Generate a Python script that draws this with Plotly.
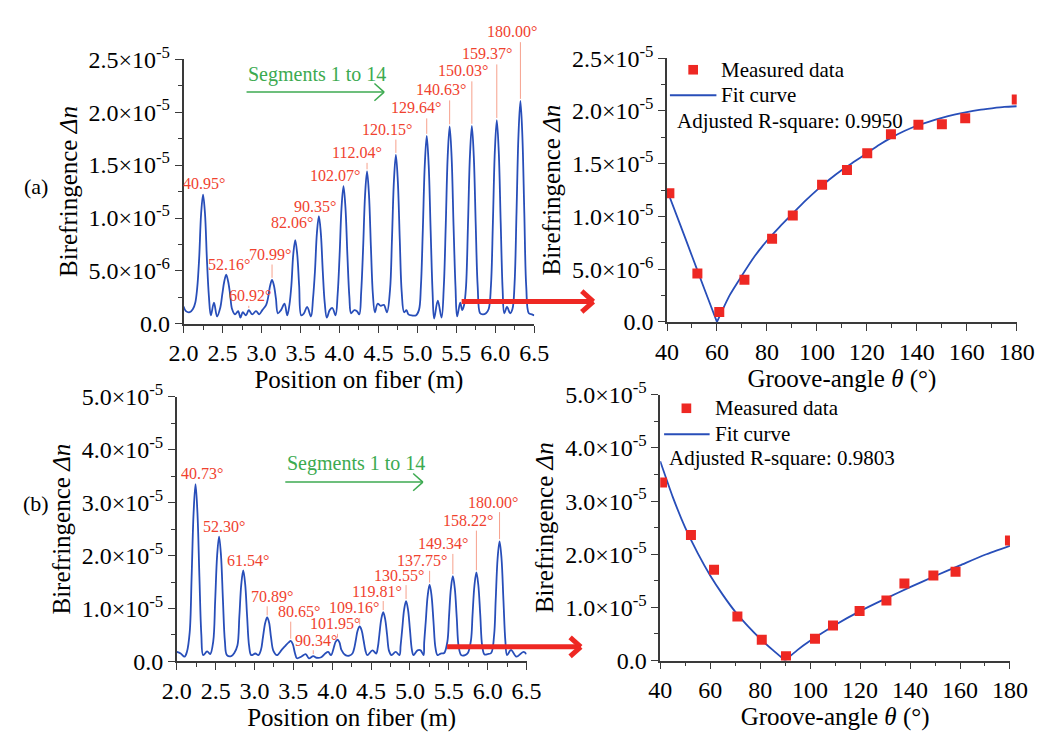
import plotly.graph_objects as go

# ---------------- data ----------------
# (a) birefringence distribution along fiber (units of 1e-6)
pos_a = [2.00, 2.03, 2.08, 2.12,
         2.15, 2.175, 2.20, 2.225, 2.25, 2.275, 2.30, 2.325, 2.35, 2.39, 2.43,
         2.47, 2.497, 2.522, 2.547, 2.572, 2.597, 2.622,
         2.66, 2.70, 2.73, 2.76, 2.80, 2.837, 2.88, 2.93, 2.97, 3.01,
         3.06, 3.085, 3.11, 3.135, 3.16, 3.185, 3.21, 3.25, 3.295, 3.33,
         3.358, 3.383, 3.408, 3.433, 3.458, 3.483, 3.51, 3.545, 3.585, 3.635,
         3.661, 3.686, 3.711, 3.736, 3.761, 3.786, 3.811, 3.838, 3.875, 3.91, 3.95,
         3.977, 4.002, 4.027, 4.052, 4.077, 4.102, 4.127, 4.15, 4.19, 4.225, 4.255,
         4.279, 4.304, 4.329, 4.354, 4.379, 4.404, 4.429, 4.455, 4.49, 4.53, 4.57, 4.61,
         4.649, 4.674, 4.699, 4.724, 4.749, 4.774, 4.799, 4.83, 4.86, 4.885, 4.93, 4.98, 5.02,
         5.045, 5.07, 5.095, 5.12, 5.145, 5.17, 5.195, 5.215, 5.262, 5.31,
         5.339, 5.364, 5.389, 5.414, 5.439, 5.464, 5.489, 5.51, 5.55, 5.575, 5.60,
         5.624, 5.649, 5.674, 5.699, 5.724, 5.749, 5.774, 5.805, 5.84, 5.88, 5.915,
         5.944, 5.969, 5.994, 6.019, 6.044, 6.069, 6.094, 6.115, 6.15, 6.19, 6.22,
         6.247, 6.272, 6.297, 6.322, 6.347, 6.372, 6.397, 6.43, 6.47, 6.50]
dn_a = [1.65, 1.2, 1.1, 1.4,
        2.0, 3.4, 6.2, 10.4, 12.2, 10.4, 6.0, 2.6, 0.8, 2.0, 0.7,
        1.5, 2.8, 4.0, 4.66, 4.0, 2.8, 1.4,
        0.9, 1.2, 0.6, 1.1, 0.8, 1.3, 0.9, 1.2, 0.9, 1.3,
        1.8, 2.5, 3.6, 4.15, 3.6, 2.4, 1.0, 1.3, 1.9, 0.8,
        1.8, 3.6, 6.6, 7.9, 6.6, 3.6, 0.8, 1.0, 1.6, 0.7,
        2.4, 5.0, 8.6, 10.17, 8.6, 5.0, 2.0, 0.6, 1.3, 1.5, 0.8,
        2.8, 6.5, 11.0, 13.0, 11.0, 6.5, 2.6, 1.0, 1.3, 1.2, 0.9,
        3.0, 7.2, 12.2, 14.4, 12.2, 7.2, 2.8, 1.1, 1.9, 1.7, 1.8, 1.1,
        3.2, 8.0, 13.5, 15.95, 13.5, 8.0, 3.0, 1.1, 1.3, 0.9, 0.8, 0.8, 1.3,
        3.5, 8.9, 15.0, 17.75, 15.0, 8.9, 3.0, 0.5, 2.2, 0.6,
        3.5, 9.3, 15.8, 18.65, 15.8, 9.3, 3.5, 0.7, 2.0, 1.3, 1.8,
        3.5, 9.3, 15.8, 18.7, 15.8, 9.3, 3.5, 1.0, 0.9, 1.0, 1.4,
        3.6, 9.6, 16.3, 19.25, 16.3, 9.6, 3.2, 1.0, 1.6, 1.0, 1.4,
        3.8, 10.5, 17.8, 21.05, 17.8, 10.5, 3.5, 1.0, 0.9, 0.8]

# (b) birefringence distribution along fiber (units of 1e-6)
pos_b = [2.00, 2.05, 2.10, 2.13,
         2.166, 2.191, 2.216, 2.241, 2.266, 2.291, 2.316, 2.34, 2.39, 2.43,
         2.469, 2.494, 2.519, 2.544, 2.569, 2.594, 2.619, 2.645, 2.70, 2.74,
         2.78, 2.805, 2.83, 2.855, 2.88, 2.905, 2.93, 2.958, 3.01, 3.05,
         3.083, 3.108, 3.138, 3.163, 3.188, 3.213, 3.243, 3.288, 3.35, 3.40,
         3.44, 3.466, 3.492, 3.52, 3.546, 3.60, 3.658, 3.70, 3.756, 3.80, 3.858, 3.91, 3.947, 3.985,
         4.018, 4.043, 4.068, 4.093, 4.118, 4.17, 4.22, 4.26,
         4.283, 4.303, 4.328, 4.353, 4.378, 4.403, 4.428, 4.451, 4.518, 4.565,
         4.586, 4.606, 4.631, 4.656, 4.681, 4.706, 4.731, 4.763, 4.816, 4.865,
         4.88, 4.90, 4.925, 4.95, 4.975, 5.00, 5.025, 5.045, 5.097, 5.137, 5.175,
         5.183, 5.203, 5.228, 5.253, 5.278, 5.303, 5.328, 5.355, 5.396, 5.44,
         5.482, 5.502, 5.527, 5.552, 5.577, 5.602, 5.627, 5.66, 5.71, 5.745,
         5.785, 5.805, 5.83, 5.855, 5.88, 5.905, 5.93, 5.96, 6.00, 6.045,
         6.083, 6.103, 6.128, 6.153, 6.178, 6.203, 6.228, 6.25, 6.30, 6.37, 6.46, 6.50]
dn_b = [1.8, 1.5, 0.9, 1.8,
        5.5, 16.0, 28.0, 33.5, 28.0, 16.0, 5.0, 1.2, 1.9, 1.4,
        3.8, 11.5, 20.0, 23.6, 20.0, 11.5, 3.8, 1.2, 1.0, 1.6,
        3.0, 8.5, 14.6, 17.2, 14.6, 8.5, 3.0, 1.2, 1.5, 1.2,
        2.2, 4.5, 7.3, 8.3, 7.3, 4.5, 2.0, 1.2, 2.2, 3.0,
        3.6, 3.9, 3.3, 1.6, 0.6, 0.9, 1.4, 0.6, 1.0, 0.7, 0.8, 1.5, 1.8, 1.2,
        2.5, 3.7, 4.1, 3.6, 2.2, 1.2, 1.1, 1.5,
        2.5, 4.0, 5.9, 6.6, 5.9, 4.0, 2.0, 1.2, 2.1, 1.5,
        2.6, 5.0, 8.0, 9.3, 8.0, 5.0, 2.0, 1.2, 1.8, 1.2,
        3.0, 6.0, 9.8, 11.4, 9.8, 6.0, 2.2, 1.2, 2.1, 2.1, 1.2,
        3.5, 7.5, 12.4, 14.5, 12.4, 7.5, 2.6, 1.2, 1.5, 1.6,
        3.8, 8.3, 13.8, 16.1, 13.8, 8.3, 2.8, 1.2, 1.2, 1.6,
        4.0, 8.7, 14.4, 16.8, 14.4, 8.7, 2.9, 1.3, 1.4, 1.6,
        5.0, 11.5, 19.5, 22.7, 19.5, 11.5, 3.8, 1.2, 2.2, 0.9, 1.8, 1.4]

# peak labels (groove angle) with peak positions
ang_a = ["40.95°", "52.16°", "60.92°", "70.99°", "82.06°", "90.35°", "102.07°",
         "112.04°", "120.15°", "129.64°", "140.63°", "150.03°", "159.37°", "180.00°"]
peakx_a = [2.25, 2.547, 2.837, 3.135, 3.433, 3.736, 4.052, 4.354, 4.724, 5.12, 5.414, 5.699, 6.019, 6.322]
peaky_a = [12.2, 4.66, 1.3, 4.15, 7.9, 10.17, 13.0, 14.4, 15.95, 17.75, 18.65, 18.7, 19.25, 21.05]
labx_a = [2.26, 2.58, 2.85, 3.11, 3.39, 3.69, 3.94, 4.22, 4.61, 4.98, 5.30, 5.59, 5.89, 6.21]
laby_a = [13.3, 5.6, 2.7, 6.6, 9.6, 11.1, 14.0, 16.2, 18.4, 20.4, 22.1, 23.9, 25.5, 27.6]
lead_a = [0, 0, 1, 1, 0, 0, 0, 1, 1, 1, 1, 1, 1, 1]

ang_b = ["40.73°", "52.30°", "61.54°", "70.89°", "80.65°", "90.34°", "101.95°",
         "109.16°", "119.81°", "130.55°", "137.75°", "149.34°", "158.22°", "180.00°"]
peakx_b = [2.241, 2.544, 2.855, 3.163, 3.466, 3.756, 4.068, 4.353, 4.656, 4.95, 5.253, 5.552, 5.855, 6.153]
peaky_b = [33.5, 23.6, 17.2, 8.3, 3.9, 1.0, 4.1, 6.6, 9.3, 11.4, 14.5, 16.1, 16.8, 22.7]
labx_b = [2.32, 2.61, 2.91, 3.23, 3.57, 3.79, 4.04, 4.28, 4.57, 4.86, 5.15, 5.42, 5.75, 6.07]
laby_b = [35.6, 25.5, 19.0, 12.3, 9.4, 4.0, 7.1, 10.1, 13.3, 16.3, 19.0, 22.2, 26.6, 30.1]
lead_b = [0, 0, 0, 1, 1, 1, 1, 1, 1, 1, 1, 1, 1, 1]

# measured birefringence vs groove angle (units of 1e-6)
theta_a = [40.95, 52.16, 60.92, 70.99, 82.06, 90.35, 102.07, 112.04, 120.15, 129.64, 140.63, 150.03, 159.37, 180.00]
meas_a = [12.2, 4.6, 0.94, 4.0, 7.9, 10.1, 13.0, 14.4, 16.0, 17.8, 18.7, 18.75, 19.3, 21.1]
fit_theta_a = [40, 45, 50, 55, 60, 65, 70, 75, 80, 85, 90, 95, 100, 105, 110, 115, 120, 125,
               130, 135, 140, 145, 150, 155, 160, 165, 170, 175, 180]
fit_a = [12.5, 9.4, 6.25, 3.1, 0.0, 2.5, 4.4, 6.2, 7.7, 9.0, 10.2, 11.4, 12.5, 13.5, 14.4, 15.2,
         16.0, 16.8, 17.5, 18.1, 18.6, 19.0, 19.35, 19.65, 19.9, 20.1, 20.25, 20.38, 20.45]

theta_b = [40.73, 52.30, 61.54, 70.89, 80.65, 90.34, 101.95, 109.16, 119.81, 130.55, 137.75, 149.34, 158.22, 180.00]
meas_b = [33.5, 23.6, 17.1, 8.3, 3.9, 0.8, 4.1, 6.6, 9.3, 11.3, 14.5, 16.0, 16.7, 22.6]
fit_theta_b = [40, 45, 50, 55, 60, 65, 70, 75, 80, 85, 90, 95, 100, 110, 120, 130, 140, 150, 160, 170, 180]
fit_b = [37.5, 30.8, 25.0, 20.2, 16.0, 12.4, 9.2, 6.5, 4.1, 2.0, 0.0, 2.0, 3.7, 6.7, 9.3, 11.6,
         13.8, 15.9, 17.9, 19.9, 21.6]

r2_a = "0.9950"
r2_b = "0.9803"

# tick labels
pos_ticks = [2.0, 2.5, 3.0, 3.5, 4.0, 4.5, 5.0, 5.5, 6.0, 6.5]
ang_ticks = [40, 60, 80, 100, 120, 140, 160, 180]
yt_a = [0, 5e-6, 1e-5, 1.5e-5, 2e-5, 2.5e-5]
yt_a_text = ["0.0", "5.0×10<sup>-6</sup>", "1.0×10<sup>-5</sup>", "1.5×10<sup>-5</sup>",
             "2.0×10<sup>-5</sup>", "2.5×10<sup>-5</sup>"]
yt_b = [0, 1e-5, 2e-5, 3e-5, 4e-5, 5e-5]
yt_b_text = ["0.0", "1.0×10<sup>-5</sup>", "2.0×10<sup>-5</sup>", "3.0×10<sup>-5</sup>",
             "4.0×10<sup>-5</sup>", "5.0×10<sup>-5</sup>"]

# ---------------- styling / layout ----------------
F = "Liberation Serif"
W, H = 1058, 732
BLUE = "rgb(40,78,185)"
RED = "rgb(238,40,35)"
LAB = "rgb(240,66,46)"
LEAD = "rgb(246,160,140)"
GREEN = "rgb(60,170,80)"
AX = "#3a3a3a"
U = 1e-6


def fx(p):
    return p / W


def fy(p):
    return 1 - p / H


def sc(v):
    return [a * U for a in v]


def add_fit(xs, ys, xa, ya):
    # draw the fit as two branches meeting at the V-shaped minimum
    k = ys.index(min(ys))
    for sx, sy in ((xs[:k + 1], ys[:k + 1]), (xs[k:], ys[k:])):
        fig.add_trace(go.Scatter(x=sx, y=sc(sy), mode="lines", xaxis=xa, yaxis=ya,
                                 line=dict(color=BLUE, width=1.8, shape="spline", smoothing=0.6)))


fig = go.Figure()
fig.add_trace(go.Scatter(x=pos_a, y=sc(dn_a), mode="lines", xaxis="x", yaxis="y",
                         line=dict(color=BLUE, width=1.8, shape="spline", smoothing=1.0)))
add_fit(fit_theta_a, fit_a, "x2", "y2")
fig.add_trace(go.Scatter(x=theta_a, y=sc(meas_a), mode="markers", xaxis="x2", yaxis="y2",
                         marker=dict(symbol="square", size=10, color=RED), cliponaxis=True))
fig.add_trace(go.Scatter(x=pos_b, y=sc(dn_b), mode="lines", xaxis="x3", yaxis="y3",
                         line=dict(color=BLUE, width=1.8, shape="spline", smoothing=1.0)))
add_fit(fit_theta_b, fit_b, "x4", "y4")
fig.add_trace(go.Scatter(x=theta_b, y=sc(meas_b), mode="markers", xaxis="x4", yaxis="y4",
                         marker=dict(symbol="square", size=10, color=RED), cliponaxis=True))

base = dict(showline=True, linecolor=AX, linewidth=1.5, ticks="outside", ticklen=7, tickwidth=1.4,
            tickcolor=AX, showgrid=False, zeroline=False,
            tickfont=dict(family=F, size=24, color="black"),
            title_font=dict(family=F, size=25, color="black"))


def xaxis(dom, anchor, rng, tv, fmt, mdt, title):
    d = dict(base)
    d.update(domain=[fx(dom[0]), fx(dom[1])], anchor=anchor, range=rng, tickmode="array",
             tickvals=tv, ticktext=[fmt.format(v) for v in tv],
             minor=dict(ticks="outside", ticklen=4, tickwidth=1.2, tickcolor=AX, dtick=mdt),
             title=dict(text=title, standoff=2))
    return d


def yaxis(dom, anchor, rng, tv, tt, mdt):
    d = dict(base)
    d.update(domain=[fy(dom[1]), fy(dom[0])], anchor=anchor, range=rng, tickmode="array",
             tickvals=tv, ticktext=tt,
             minor=dict(ticks="outside", ticklen=4, tickwidth=1.2, tickcolor=AX, dtick=mdt, tick0=0),
             title=dict(text="Birefringence <i>Δn</i>", standoff=4))
    return d


TL = (174, 536, 44, 320)
TR = (673, 1034, 43, 318)
BL = (167, 528, 396, 672)
BR = (666, 1027, 394, 671)

gtitle = "Groove-angle <i>θ</i> (°)"
fig.update_layout(
    width=W, height=H, margin=dict(l=0, r=0, t=0, b=0),
    paper_bgcolor="white", plot_bgcolor="white", showlegend=False,
    font=dict(family=F, color="black"),
    xaxis=xaxis(TL[:2], "y", [2, 6.5], pos_ticks, "{:.1f}", 0.25, "Position on fiber (m)"),
    yaxis=yaxis(TL[2:], "x", [0, 2.5e-5], yt_a, yt_a_text, 2.5e-6),
    xaxis2=xaxis(TR[:2], "y2", [40, 180], ang_ticks, "{:d}", 10, gtitle),
    yaxis2=yaxis(TR[2:], "x2", [0, 2.5e-5], yt_a, yt_a_text, 2.5e-6),
    xaxis3=xaxis(BL[:2], "y3", [2, 6.5], pos_ticks, "{:.1f}", 0.25, "Position on fiber (m)"),
    yaxis3=yaxis(BL[2:], "x3", [0, 5e-5], yt_b, yt_b_text, 5e-6),
    xaxis4=xaxis(BR[:2], "y4", [40, 180], ang_ticks, "{:d}", 10, gtitle),
    yaxis4=yaxis(BR[2:], "x4", [0, 5e-5], yt_b, yt_b_text, 5e-6),
)

ann = []
shapes = []


def peak_labels(ax, ay, ymax, angs, px_, py_, lx, ly, lead, half, gap):
    for a, pxv, pyv, x0, y0, l in zip(angs, px_, py_, lx, ly, lead):
        # label y given relative to the axis domain so labels above the range stay visible
        ann.append(dict(x=x0, y=y0 / ymax, xref=ax, yref=ay + " domain", text=a, showarrow=False,
                        xanchor="center", yanchor="middle",
                        font=dict(family=F, size=16, color=LAB)))
        if l:
            ann.append(dict(x=pxv, y=(pyv + gap) * U, xref=ax, yref=ay, axref=ax, ayref=ay,
                            ax=pxv, ay=(y0 - half) * U, text="", showarrow=True, arrowhead=0,
                            arrowwidth=1, arrowcolor=LEAD, standoff=0, startstandoff=0))


peak_labels("x", "y", 25.0, ang_a, peakx_a, peaky_a, labx_a, laby_a, lead_a, 0.85, 0.2)
peak_labels("x3", "y3", 50.0, ang_b, peakx_b, peaky_b, labx_b, laby_b, lead_b, 1.6, 0.4)


def pline(x0, y0, x1, y1, color, width):
    shapes.append(dict(type="line", xref="paper", yref="paper", x0=fx(x0), y0=fy(y0),
                       x1=fx(x1), y1=fy(y1), line=dict(color=color, width=width)))


def chevron_arrow(x0, x1, y, head, color, width):
    pline(x0, y, x1, y, color, width)
    pline(x1 - head, y - head * 0.9, x1, y, color, width)
    pline(x1 - head, y + head * 0.9, x1, y, color, width)


# red arrows between panels
chevron_arrow(461, 597, 296.7, 12, RED, 5)
chevron_arrow(446, 584, 656.7, 11, RED, 5)
# green "segments" arrows
chevron_arrow(239, 381, 78.3, 10, GREEN, 1.5)
chevron_arrow(279, 421, 485, 10, GREEN, 1.5)


def ptext(x, y, text, size, color="black", xanchor="center"):
    ann.append(dict(x=fx(x), y=fy(y), xref="paper", yref="paper", text=text, showarrow=False,
                    xanchor=xanchor, yanchor="middle", font=dict(family=F, size=size, color=color)))


ptext(312, 60, "Segments 1 to 14", 20, GREEN)
ptext(352, 466, "Segments 1 to 14", 20, GREEN)
ptext(22, 177, "(a)", 22)
ptext(22, 507, "(b)", 22)


def legend(mx, my, lx0, lx1, ly, tx, r2y, r2x, r2):
    shapes.append(dict(type="rect", xref="paper", yref="paper", x0=fx(mx - 5), x1=fx(mx + 5),
                       y0=fy(my + 5), y1=fy(my - 5), fillcolor=RED, line=dict(width=0)))
    ptext(tx, my, "Measured data", 21, xanchor="left")
    pline(lx0, ly, lx1, ly, BLUE, 2)
    ptext(tx, ly, "Fit curve", 21, xanchor="left")
    ptext(r2x, r2y, "Adjusted R-square: " + r2, 21, xanchor="left")


legend(700, 55, 676, 724, 81.7, 727, 108, 681, r2_a)
legend(693, 408, 670, 717, 435, 720, 460, 673, r2_b)

fig.update_layout(annotations=ann, shapes=shapes)
fig.write_html("out.html")
